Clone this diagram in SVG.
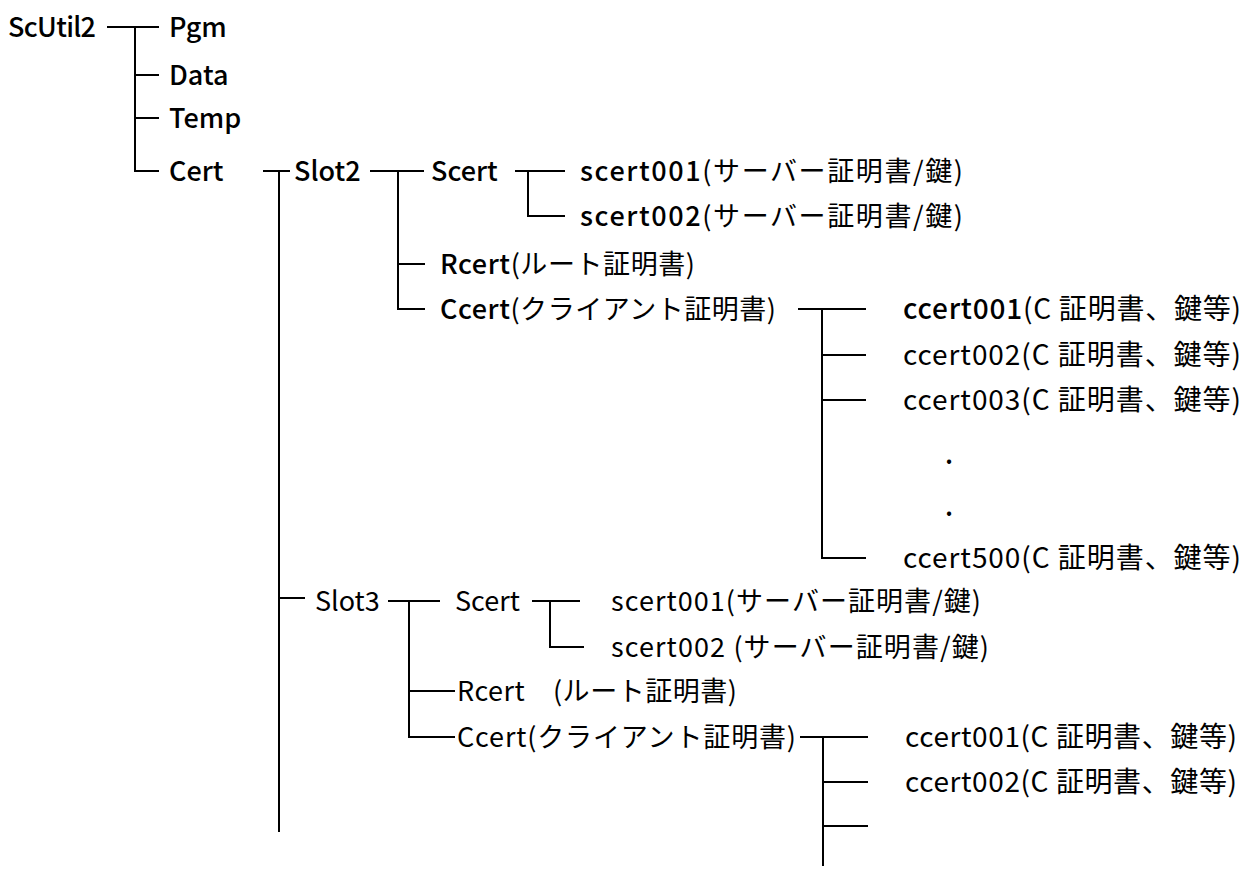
<svg xmlns="http://www.w3.org/2000/svg" width="1251" height="885" viewBox="0 0 1251 885">
  <style>
    text { font-family: "Noto Sans CJK JP", "Noto Sans", sans-serif; font-size: 27px; fill: #000; }
    .b { font-weight: 500; }
    .r { font-weight: 400; }
    .c { font-size: 28px; }
    #connectors line, #connectors polyline { stroke: #000; stroke-width: 2; fill: none; }
  </style>
  <rect width="1251" height="885" fill="#fff"/>

  <!-- tree lines -->
  <g id="connectors">
    <!-- ScUtil2 -->
    <line x1="107" y1="27" x2="159" y2="27"/>
    <polyline points="135,27 135,171 159,171"/>
    <line x1="135" y1="75" x2="159" y2="75"/>
    <line x1="135" y1="118" x2="159" y2="118"/>
    <!-- Cert -->
    <line x1="263" y1="171" x2="290" y2="171"/>
    <line x1="279" y1="171" x2="279" y2="832"/>
    <line x1="279" y1="598" x2="305" y2="598"/>
    <!-- Slot2 -->
    <line x1="370" y1="171" x2="424" y2="171"/>
    <polyline points="398,171 398,309 425,309"/>
    <line x1="398" y1="264" x2="425" y2="264"/>
    <!-- Slot2 / Scert -->
    <line x1="515" y1="171" x2="565" y2="171"/>
    <polyline points="528,171 528,216 565,216"/>
    <!-- Slot2 / Ccert -->
    <line x1="798" y1="309" x2="866" y2="309"/>
    <polyline points="822,309 822,558 866,558"/>
    <line x1="822" y1="355" x2="866" y2="355"/>
    <line x1="822" y1="400" x2="866" y2="400"/>
    <!-- Slot3 -->
    <line x1="388" y1="601" x2="440" y2="601"/>
    <polyline points="409,601 409,737 455,737"/>
    <line x1="409" y1="691" x2="455" y2="691"/>
    <!-- Slot3 / Scert -->
    <line x1="532" y1="601" x2="580" y2="601"/>
    <polyline points="550,601 550,647 584,647"/>
    <!-- Slot3 / Ccert -->
    <line x1="800" y1="737" x2="868" y2="737"/>
    <line x1="823" y1="737" x2="823" y2="866"/>
    <line x1="823" y1="782" x2="868" y2="782"/>
    <line x1="823" y1="826" x2="868" y2="826"/>
  </g>

  <g id="n-scutil2"><text class="b" x="8" y="37" textLength="88" lengthAdjust="spacing">ScUtil2</text></g>
  <g id="n-pgm"><text class="b" x="169" y="37">Pgm</text></g>
  <g id="n-data"><text class="b" x="169" y="85">Data</text></g>
  <g id="n-temp"><text class="b" x="169" y="128">Temp</text></g>
  <g id="n-cert"><text class="b" x="169" y="181">Cert</text></g>

  <!-- Slot2 branch -->
  <g id="n-slot2"><text class="b" x="294" y="181">Slot2</text></g>
  <g id="n-slot2-scert"><text class="b" x="431" y="181">Scert</text></g>
  <g id="n-slot2-scert001"><text x="580" y="181" textLength="383" lengthAdjust="spacing"><tspan class="b">scert001</tspan><tspan class="r">(サーバー証明書/鍵)</tspan></text></g>
  <g id="n-slot2-scert002"><text x="580" y="226" textLength="383" lengthAdjust="spacing"><tspan class="b">scert002</tspan><tspan class="r">(サーバー証明書/鍵)</tspan></text></g>
  <g id="n-slot2-rcert"><text x="440" y="274" textLength="255" lengthAdjust="spacing"><tspan class="b">Rcert</tspan><tspan class="r">(ルート証明書)</tspan></text></g>
  <g id="n-slot2-ccert"><text x="440" y="319" textLength="336" lengthAdjust="spacing"><tspan class="b">Ccert</tspan><tspan class="r">(クライアント証明書)</tspan></text></g>
  <g id="n-slot2-ccert001"><text class="c" x="903" y="319" textLength="338" lengthAdjust="spacing"><tspan class="b">ccert001</tspan><tspan class="r">(C 証明書、鍵等)</tspan></text></g>
  <g id="n-slot2-ccert002"><text class="r c" x="903" y="365" textLength="338" lengthAdjust="spacing">ccert002(C 証明書、鍵等)</text></g>
  <g id="n-slot2-ccert003"><text class="r c" x="903" y="410" textLength="338" lengthAdjust="spacing">ccert003(C 証明書、鍵等)</text></g>
  <g id="n-slot2-dots"><text class="b" x="945" y="464">.</text><text class="b" x="945" y="516">.</text></g>
  <g id="n-slot2-ccert500"><text class="r c" x="903" y="568" textLength="338" lengthAdjust="spacing">ccert500(C 証明書、鍵等)</text></g>

  <!-- Slot3 branch -->
  <g id="n-slot3"><text class="r" x="315" y="611">Slot3</text></g>
  <g id="n-slot3-scert"><text class="r" x="455" y="611">Scert</text></g>
  <g id="n-slot3-scert001"><text class="r" x="611" y="611" textLength="370" lengthAdjust="spacing">scert001(サーバー証明書/鍵)</text></g>
  <g id="n-slot3-scert002"><text class="r" x="611" y="657" textLength="378" lengthAdjust="spacing">scert002 (サーバー証明書/鍵)</text></g>
  <g id="n-slot3-rcert"><text class="r" x="457" y="701" textLength="280" lengthAdjust="spacing">Rcert　(ルート証明書)</text></g>
  <g id="n-slot3-ccert"><text class="r" x="457" y="747" textLength="339" lengthAdjust="spacing">Ccert(クライアント証明書)</text></g>
  <g id="n-slot3-ccert001"><text class="r c" x="905" y="747" textLength="332" lengthAdjust="spacing">ccert001(C 証明書、鍵等)</text></g>
  <g id="n-slot3-ccert002"><text class="r c" x="905" y="792" textLength="332" lengthAdjust="spacing">ccert002(C 証明書、鍵等)</text></g>
</svg>
